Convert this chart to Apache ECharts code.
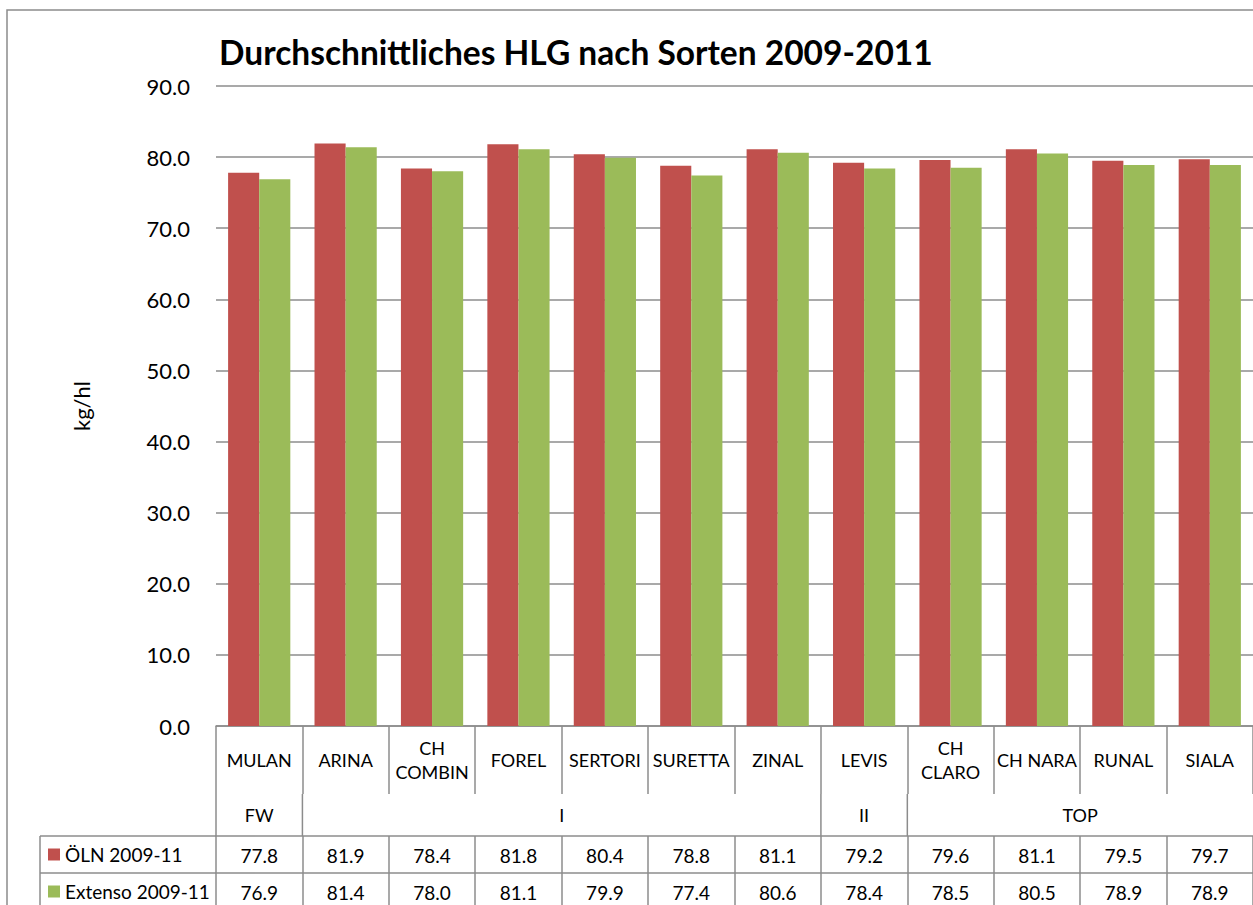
<!DOCTYPE html>
<html>
<head>
<meta charset="utf-8">
<script src="https://cdn.jsdelivr.net/npm/echarts@6/dist/echarts.min.js"></script>
<style>
  html, body { margin: 0; padding: 0; background: #fff; }
  #chart { width: 1253px; height: 905px; }
</style>
</head>
<body>
<div id="chart"></div>
<script>
// Sorten und Werte (kg/hl)
const sorten = ['MULAN', 'ARINA', 'CH\nCOMBIN', 'FOREL', 'SERTORI', 'SURETTA', 'ZINAL', 'LEVIS', 'CH\nCLARO', 'CH NARA', 'RUNAL', 'SIALA'];
const oln = [77.8, 81.9, 78.4, 81.8, 80.4, 78.8, 81.1, 79.2, 79.6, 81.1, 79.5, 79.7];
const extenso = [76.9, 81.4, 78.0, 81.1, 79.9, 77.4, 80.6, 78.4, 78.5, 80.5, 78.9, 78.9];
const serienNamen = ['ÖLN 2009-11', 'Extenso 2009-11'];
// Qualitätsklassen
const klassen = ['FW', 'I', 'II', 'TOP'];
const klassenAnzahl = [1, 6, 1, 4];
const yTicks = [0, 90, 10];

const FONT = 'Lato';
const GRAU = '#8c8c8c';

const chart = echarts.init(document.getElementById('chart'), null, { renderer: 'svg' });

// eine Legende pro Tabellenzeile
const legende = (name, top) => ({
    left: 48,
    top: top,
    itemWidth: 12,
    itemHeight: 12,
    icon: 'rect',
    padding: 0,
    textStyle: { fontFamily: FONT, fontSize: 19, color: '#000' },
    data: [name],
});

const option = {
    animation: false,
    textStyle: { fontFamily: FONT, color: '#000' },
    title: {
        text: 'Durchschnittliches HLG nach Sorten 2009-2011',
        left: 214,
        top: 30,
        textStyle: { fontFamily: FONT, fontSize: 33.5, fontWeight: 'bold', color: '#000' },
    },
    legend: [legende(serienNamen[0], 845), legende(serienNamen[1], 882)],
    grid: { left: 216, right: -7, top: 86, bottom: 179, containLabel: false },
    xAxis: [
        {
            type: 'category',
            data: sorten,
            position: 'bottom',
            axisLine: { show: true, lineStyle: { color: GRAU, width: 1.5 } },
            axisTick: { show: true, interval: 0, length: 68, lineStyle: { color: GRAU, width: 1.5 } },
            axisLabel: {
                interval: 0, margin: 34, verticalAlign: 'middle', lineHeight: 24,
                fontFamily: FONT, fontSize: 18, color: '#000', hideOverlap: false,
            },
        },
        {
            type: 'category',
            data: sorten,
            position: 'bottom',
            offset: 110,
            axisLine: { show: true, lineStyle: { color: GRAU, width: 1.5 } },
            axisTick: { show: true, interval: 0, length: 37, lineStyle: { color: GRAU, width: 1.5 } },
            axisLabel: {
                interval: 0, margin: 19, verticalAlign: 'middle',
                fontFamily: FONT, fontSize: 19, color: '#000',
                formatter: (v, i) => oln[i].toFixed(1),
            },
        },
        {
            type: 'category',
            data: sorten,
            position: 'bottom',
            offset: 147,
            axisLine: { show: true, lineStyle: { color: GRAU, width: 1.5 } },
            axisTick: { show: true, interval: 0, length: 40, lineStyle: { color: GRAU, width: 1.5 } },
            axisLabel: {
                interval: 0, margin: 19, verticalAlign: 'middle',
                fontFamily: FONT, fontSize: 19, color: '#000',
                formatter: (v, i) => extenso[i].toFixed(1),
            },
        },
    ],
    yAxis: {
        type: 'value',
        min: yTicks[0],
        max: yTicks[1],
        interval: yTicks[2],
        name: 'kg/hl',
        nameLocation: 'middle',
        nameGap: 124,
        nameTextStyle: { fontFamily: FONT, fontSize: 22, color: '#000' },
        axisLine: { show: false },
        axisTick: { show: false },
        axisLabel: {
            margin: 26, fontFamily: FONT, fontSize: 22, color: '#000',
            formatter: v => v.toFixed(1),
        },
        splitLine: { lineStyle: { color: GRAU, width: 1.5 } },
    },
    series: [
        {
            name: serienNamen[0],
            type: 'bar',
            data: oln,
            itemStyle: { color: '#C0504D' },
            barGap: '0%',
            barCategoryGap: '28%',
        },
        {
            name: serienNamen[1],
            type: 'bar',
            data: extenso,
            itemStyle: { color: '#9BBB59' },
        },
    ],
};

chart.setOption(option);

// Klassenzeile und Tabellenkopf aus den Achsenpositionen
const px = i => chart.convertToPixel({ xAxisIndex: 0 }, i);
const bw = px(1) - px(0);
const y0 = chart.convertToPixel({ yAxisIndex: 0 }, 0);
const yGrp = y0 + 68, yRow1 = y0 + 110, yRow2 = y0 + 147;
const xLeft = px(0) - bw / 2;
const linie = (x1, y1, x2, y2) => ({
    type: 'line', shape: { x1, y1, x2, y2 }, silent: true,
    style: { stroke: GRAU, lineWidth: 1.5 },
});
const elemente = [
    { type: 'rect', shape: { x: 7, y: 10, width: 1400, height: 1000 }, silent: true, z: -10,
      style: { fill: 'none', stroke: GRAU, lineWidth: 1.5 } },
    linie(40, yRow1, xLeft, yRow1),
    linie(40, yRow2, xLeft, yRow2),
    linie(40, yRow1, 40, 1000),
];
let start = 0;
klassen.forEach((k, gi) => {
    const n = klassenAnzahl[gi];
    const l = px(start) - bw / 2;
    const r = px(start + n - 1) + bw / 2;
    elemente.push(linie(l, yGrp, l, yRow1));
    elemente.push({
        type: 'text', silent: true,
        style: { text: k, x: (l + r) / 2, y: (yGrp + yRow1) / 2, align: 'center', verticalAlign: 'middle',
                 font: '18px ' + FONT, fill: '#000' },
    });
    start += n;
});
chart.setOption({ graphic: { elements: elemente } });
</script>
</body>
</html>
